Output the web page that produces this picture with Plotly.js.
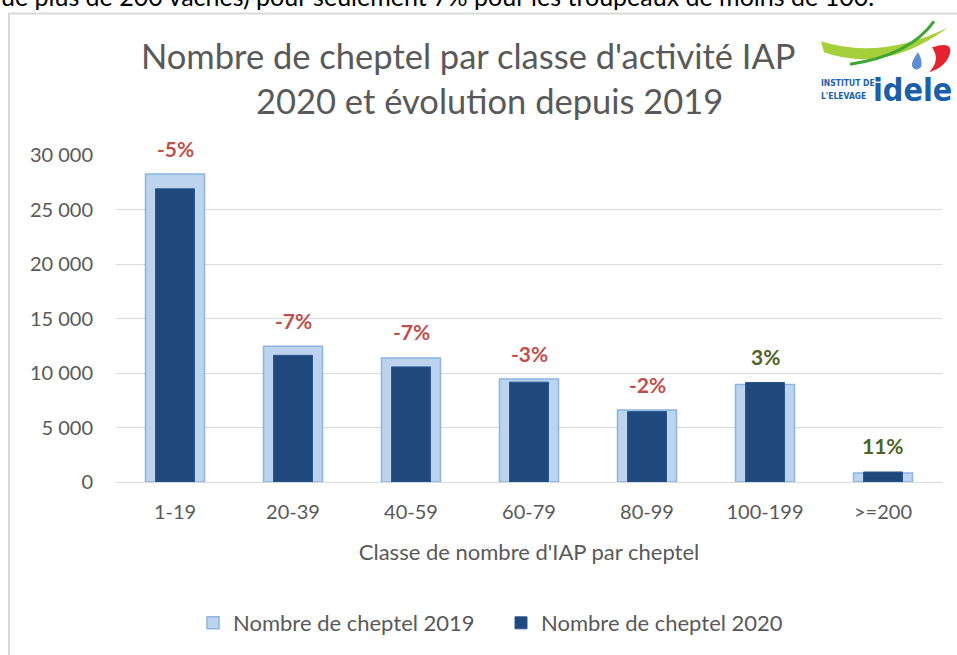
<!DOCTYPE html>
<html>
<head>
<meta charset="utf-8">
<script src="https://cdn.plot.ly/plotly-3.0.1.min.js"></script>
<style>
html,body{margin:0;padding:0;background:#fff;overflow:hidden;}
#chart{width:957px;height:655px;}
</style>
</head>
<body>
<div id="chart"></div>
<script>
// ---- data ----
const categories = ['1-19', '20-39', '40-59', '60-79', '80-99', '100-199', '>=200'];
const cheptel2019 = [28250, 12450, 11380, 9440, 6600, 8950, 830];
const cheptel2020 = [26900, 11620, 10560, 9160, 6460, 9130, 920];
const evolution = ['-5%', '-7%', '-7%', '-3%', '-2%', '3%', '11%'];
const yTicks = [0, 5000, 10000, 15000, 20000, 25000, 30000];

// ---- geometry helpers (pixel -> paper) ----
const W = 957, H = 655;
const M = {l: 116, r: 15, t: 155, b: 172};
const PW = W - M.l - M.r, PH = H - M.t - M.b;
const px = x => (x - M.l) / PW;
const py = y => (H - M.b - y) / PH;
function path(cmds) {
  return cmds.map(c => {
    if (typeof c === 'string') return c;
    return px(c[0]).toFixed(5) + ',' + py(c[1]).toFixed(5);
  }).join(' ');
}

const FONT = 'Lato, "Open Sans", sans-serif';
const GRAY = '#595959';
const LOGO_FONT = '"DejaVu Sans Condensed", "Liberation Sans", Arial, sans-serif';

const traces = [
  {
    type: 'bar', name: 'Nombre de cheptel 2019',
    x: categories, y: cheptel2019, width: 0.5,
    marker: {color: '#bdd4ee', line: {color: '#8db4e2', width: 1.5}},
    hoverinfo: 'skip'
  },
  {
    type: 'bar', name: 'Nombre de cheptel 2020',
    x: categories, y: cheptel2020, width: 0.33,
    marker: {color: '#1f497d', line: {color: '#2b5790', width: 1}},
    hoverinfo: 'skip'
  }
];

const annotations = [];
categories.forEach((c, i) => {
  const neg = evolution[i].startsWith('-');
  annotations.push({
    x: c, y: Math.max(cheptel2019[i], cheptel2020[i]), xref: 'x', yref: 'y',
    text: '<b>' + evolution[i] + '</b>', showarrow: false,
    yanchor: 'middle', yshift: 26,
    font: {family: FONT, size: 21, color: neg ? '#c0504d' : '#4f6228'}
  });
});

// title lines
annotations.push({
  xref: 'paper', yref: 'paper', x: px(468), y: py(55),
  text: "Nombre de cheptel par classe d'activité IAP", showarrow: false,
  xanchor: 'center', yanchor: 'middle',
  font: {family: FONT, size: 34.5, color: GRAY}
});
annotations.push({
  xref: 'paper', yref: 'paper', x: px(489), y: py(100),
  text: "2020 et évolution depuis 2019", showarrow: false,
  xanchor: 'center', yanchor: 'middle',
  font: {family: FONT, size: 34.5, color: GRAY}
});
// cut text at very top
annotations.push({
  xref: 'paper', yref: 'paper', x: px(-1), y: py(-4),
  text: "ue plus de 200 vaches) pour seulement 7% pour les troupeaux de moins de 100.",
  showarrow: false, xanchor: 'left', yanchor: 'middle',
  font: {family: FONT, size: 25, color: '#000'}
});
// logo text
annotations.push({
  xref: 'paper', yref: 'paper', x: px(819), y: py(83),
  text: '<b>INSTITUT DE</b>', showarrow: false, xanchor: 'left', yanchor: 'middle',
  font: {family: LOGO_FONT, size: 8.5, color: '#1b5faa'}
});
annotations.push({
  xref: 'paper', yref: 'paper', x: px(819), y: py(96),
  text: "<b>L'ELEVAGE</b>", showarrow: false, xanchor: 'left', yanchor: 'middle',
  font: {family: LOGO_FONT, size: 8.5, color: '#1b5faa'}
});
annotations.push({
  xref: 'paper', yref: 'paper', x: px(871), y: py(90),
  text: '<b>idele</b>', showarrow: false, xanchor: 'left', yanchor: 'middle',
  font: {family: LOGO_FONT, size: 32, color: '#1b5faa'}
});

const shapes = [
  // outer frame
  {type: 'rect', xref: 'paper', yref: 'paper', x0: px(9), x1: px(962), y0: py(13), y1: py(662),
   line: {color: '#d9d9d9', width: 2}, fillcolor: 'rgba(0,0,0,0)', layer: 'below'},
  // logo: light green swoosh
  {type: 'path', xref: 'paper', yref: 'paper', layer: 'above',
   path: path(['M', [821, 41], 'Q', [880, 60], [948, 27], 'Q', [885, 74], [824, 52], 'Z']),
   fillcolor: '#a6cf3b', line: {width: 0}},
  // dark green stroke
  {type: 'path', xref: 'paper', yref: 'paper', layer: 'above',
   path: path(['M', [850, 64], 'Q', [910, 55], [934, 21]]),
   fillcolor: 'rgba(0,0,0,0)', line: {color: '#3fa535', width: 3}},
  // red shape
  {type: 'path', xref: 'paper', yref: 'paper', layer: 'above',
   path: path(['M', [932, 47], 'Q', [953, 40], [950, 53], 'Q', [946, 67], [929, 72], 'Q', [941, 60], [932, 47], 'Z']),
   fillcolor: '#e3232f', line: {width: 0}},
  // blue drop
  {type: 'path', xref: 'paper', yref: 'paper', layer: 'above',
   path: path(['M', [918, 52], 'Q', [911, 61], [912, 66], 'Q', [915, 72], [921, 67], 'Q', [923, 60], [918, 52], 'Z']),
   fillcolor: '#5b8fd2', line: {width: 0}}
];

const layout = {
  width: W, height: H,
  margin: M,
  paper_bgcolor: '#ffffff', plot_bgcolor: '#ffffff',
  barmode: 'overlay',
  separators: ', ',
  showlegend: true,
  legend: {
    orientation: 'h', x: px(501), xanchor: 'center', y: py(623), yanchor: 'middle',
    font: {family: FONT, size: 22, color: GRAY}, itemwidth: 30, traceorder: 'normal',
    entrywidth: 263
  },
  xaxis: {
    type: 'category', showgrid: false, zeroline: false,
    showline: false, ticks: '', ticklabelstandoff: 16,
    tickfont: {family: FONT, size: 20, color: GRAY},
    title: {text: "Classe de nombre d'IAP par cheptel", font: {family: FONT, size: 22, color: GRAY}, standoff: 22}
  },
  yaxis: {
    range: [0, 30000], tickvals: yTicks, tickformat: ',d',
    showgrid: true, gridcolor: '#d9d9d9', gridwidth: 1,
    zeroline: true, zerolinecolor: '#d9d9d9', zerolinewidth: 1,
    showline: false, ticks: '', ticklabelstandoff: 22,
    tickfont: {family: FONT, size: 20, color: GRAY}
  },
  annotations: annotations,
  shapes: shapes
};

Plotly.newPlot('chart', traces, layout, {staticPlot: true, displayModeBar: false});
</script>
</body>
</html>
